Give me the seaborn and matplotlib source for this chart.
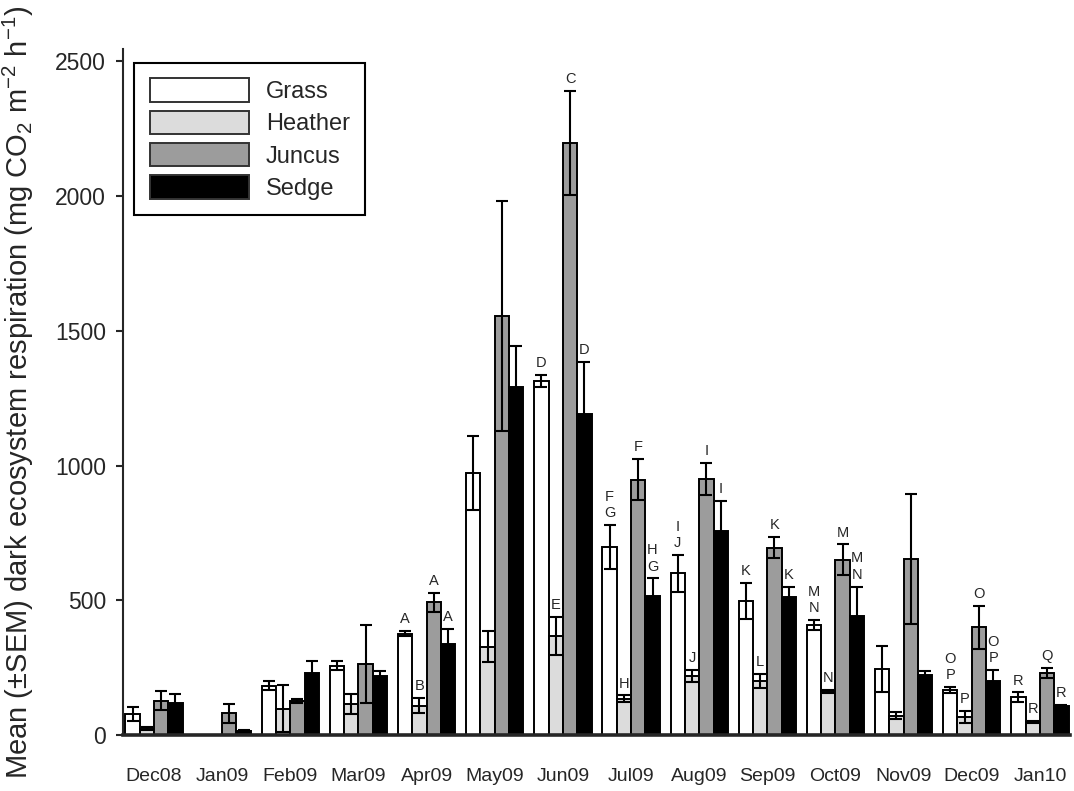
import numpy as np
import pandas as pd
import matplotlib
matplotlib.use("Agg")
import matplotlib.pyplot as plt
from matplotlib.container import BarContainer
import seaborn as sns

# Monthly campaigns
months = ["Dec08", "Jan09", "Feb09", "Mar09", "Apr09", "May09", "Jun09",
          "Jul09", "Aug09", "Sep09", "Oct09", "Nov09", "Dec09", "Jan10"]
vegetation = ["Grass", "Heather", "Juncus", "Sedge"]

nan = np.nan
# Mean dark ecosystem respiration (mg CO2 m-2 h-1)
grass = [78, nan, 183, 257, 376, 973, 1314, 698, 600, 497, 408, 245, 167, 140]
heather = [23, nan, 98, 114, 108, 328, 368, 135, 220, 201, 162, 72, 68, 48]
juncus = [127, 80, 127, 262, 493, 1555, 2197, 947, 950, 695, 650, 653, 399, 229]
sedge = [119, 14, 230, 219, 336, 1293, 1193, 514, 758, 513, 443, 224, 199, 109]

# Standard error of the mean
grass_sem = [26, nan, 16, 17, 10, 138, 22, 82, 69, 66, 19, 84, 12, 18]
heather_sem = [5, nan, 88, 37, 28, 58, 70, 12, 22, 27, 5, 12, 22, 3]
juncus_sem = [36, 34, 8, 145, 35, 426, 192, 76, 60, 40, 57, 241, 81, 19]
sedge_sem = [32, 5, 43, 18, 58, 150, 192, 67, 111, 37, 108, 12, 43, 3]

# Significance letters
grass_sig = ["", "", "", "", "A", "", "D", "F\nG", "I\nJ", "K", "M\nN", "", "O\nP", "R"]
heather_sig = ["", "", "", "", "B", "", "E", "H", "J", "L", "N", "", "P", "R"]
juncus_sig = ["", "", "", "", "A", "", "C", "F", "I", "K", "M", "", "O", "Q"]
sedge_sig = ["", "", "", "", "A", "", "D", "H\nG", "I", "K", "M\nN", "", "O\nP", "R"]

colors = ["#ffffff", "#dcdcdc", "#9c9c9c", "#000000"]

means = {"Grass": grass, "Heather": heather, "Juncus": juncus, "Sedge": sedge}
sems = {"Grass": grass_sem, "Heather": heather_sem, "Juncus": juncus_sem, "Sedge": sedge_sem}
sigs = {"Grass": grass_sig, "Heather": heather_sig, "Juncus": juncus_sig, "Sedge": sedge_sig}

rows = []
for veg in vegetation:
    for m, v in zip(months, means[veg]):
        if not np.isnan(v):
            rows.append({"Month": m, "Vegetation": veg, "Reco": v})
df = pd.DataFrame(rows)

sns.set_style("ticks")
plt.rcParams["font.family"] = ["Liberation Sans", "DejaVu Sans"]
plt.rcParams["mathtext.fontset"] = "custom"
plt.rcParams["mathtext.rm"] = "Liberation Sans"
plt.rcParams["mathtext.it"] = "Liberation Sans:italic"
plt.rcParams["mathtext.default"] = "regular"

fig = plt.figure(figsize=(10.74, 7.91), dpi=100)
ax = fig.add_axes([0.1142, 0.0708, 0.882, 0.867])

group_width = 0.84
sns.barplot(data=df, x="Month", y="Reco", hue="Vegetation",
            order=months, hue_order=vegetation, palette=colors,
            errorbar=None, width=group_width, edgecolor="black",
            linewidth=1.4, saturation=1, ax=ax, zorder=2)

nh = len(vegetation)
bw = group_width / nh
bar_containers = [c for c in ax.containers if isinstance(c, BarContainer)]
for container in bar_containers:
    for bar in container:
        h = bar.get_height()
        if not np.isfinite(h):
            continue
        xc = bar.get_x() + bar.get_width() / 2
        mi = int(round(xc))
        hi = int(round((xc - mi + group_width / 2 - bw / 2) / bw))
        veg = vegetation[hi]
        s = sems[veg][mi]
        if np.isnan(s):
            continue
        ax.errorbar(xc, h, yerr=s, fmt="none", ecolor="black",
                    elinewidth=1.5, capsize=4.2, capthick=1.5, zorder=4)
        lab = sigs[veg][mi]
        if lab:
            ax.annotate(lab, (xc, h + s), xytext=(0, 3.5),
                        textcoords="offset points", ha="center", va="bottom",
                        fontsize=10.5, linespacing=1.2, zorder=5)

ax.set_xlim(-0.46, 13.44)
ax.set_ylim(0, 2545)
ax.set_yticks([0, 500, 1000, 1500, 2000, 2500])
ax.set_xlabel("")
ax.set_ylabel("Mean (±SEM) dark ecosystem respiration (mg CO$_2$ m$^{-2}$ h$^{-1}$)",
              fontsize=21)
ax.yaxis.set_label_coords(-0.091, 0.5)

ax.tick_params(axis="x", length=0, pad=24, labelsize=14)
ax.tick_params(axis="y", length=5, width=1.5, pad=7, labelsize=16.5, direction="out")

sns.despine(ax=ax)
ax.spines["left"].set_linewidth(1.5)
ax.spines["bottom"].set_linewidth(2.6)
ax.spines["bottom"].set_zorder(6)

leg = ax.legend(loc="upper left", bbox_to_anchor=(0.0125, 0.98), borderaxespad=0,
                fontsize=17, frameon=True, fancybox=False, edgecolor="black",
                framealpha=1, handlelength=4.2, handleheight=1.15,
                labelspacing=0.32, handletextpad=0.72, borderpad=0.65, title=None)
leg.get_frame().set_linewidth(1.5)
for hnd in leg.legend_handles:
    hnd.set_edgecolor("#333333")

fig.savefig("out.png", dpi=100)
